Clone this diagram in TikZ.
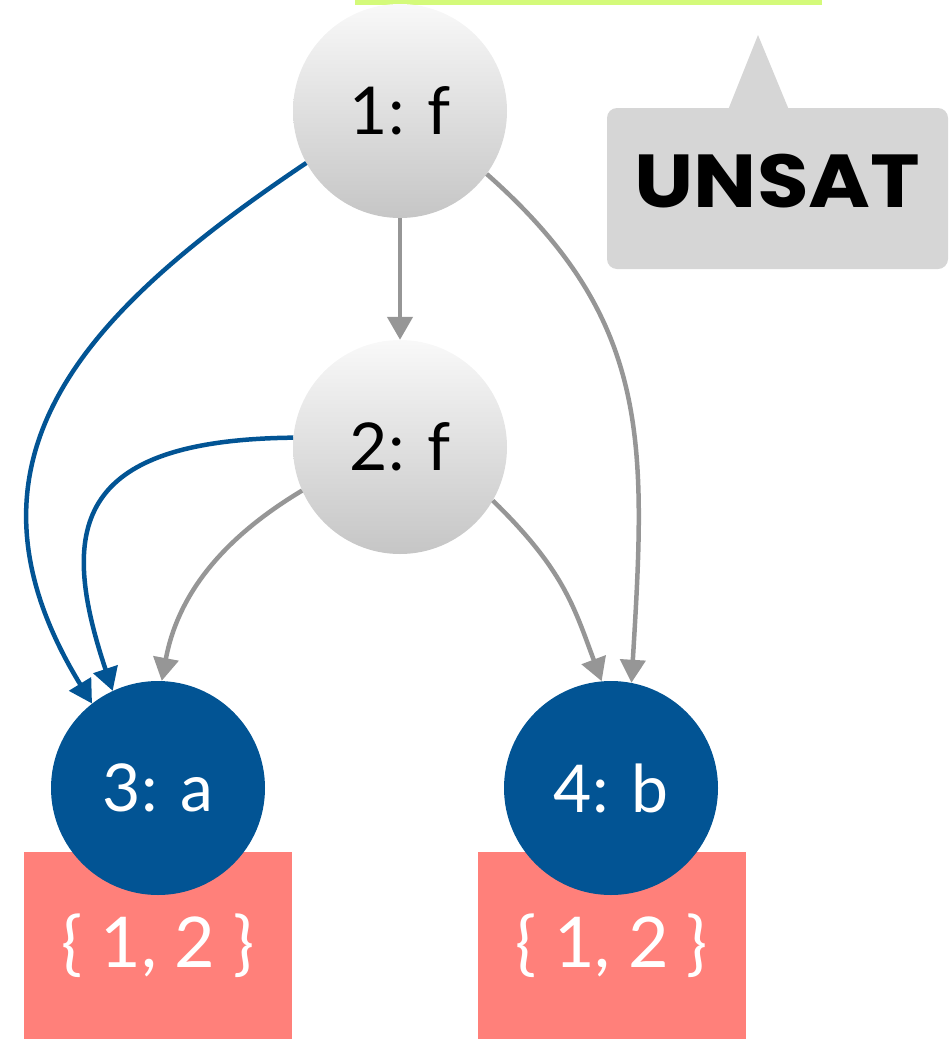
\documentclass[tikz,border=0pt]{standalone}
\usepackage{fontspec}
\setsansfont{Lato}
\newfontfamily\heavyfont{Poppins}
\usetikzlibrary{arrows.meta}

\definecolor{termblue}{RGB}{2,84,148}
\definecolor{depgray}{RGB}{150,150,150}
\definecolor{setred}{RGB}{255,128,122}
\definecolor{notegray}{RGB}{214,214,214}
\definecolor{barlime}{RGB}{212,250,122}

\begin{document}
\begin{tikzpicture}[x=1pt, y=-1pt, >={Triangle[length=23pt, width=25pt]},
  every node/.style={font=\sffamily\fontsize{66}{70}\selectfont},
  fterm/.style={circle, minimum size=214pt, inner sep=0pt, top color=gray!5, bottom color=gray!45},
  cterm/.style={circle, minimum size=214pt, inner sep=0pt, fill=termblue, text=white},
  setbox/.style={rectangle, minimum width=268pt, minimum height=187pt, inner sep=0pt, fill=setred, text=white,
    font=\sffamily\fontsize{70}{74}\selectfont},
  notebox/.style={rectangle, minimum width=341pt, minimum height=161pt, rounded corners=10pt, fill=notegray,
    text depth=16pt, font=\heavyfont\bfseries\fontsize{75}{80}\selectfont},
  dep/.style={draw=depgray, line width=4.5pt, ->},
  bluedep/.style={draw=termblue, line width=4.5pt, ->}]
  \useasboundingbox (0,0) rectangle (949,1039);
  \fill[barlime] (355,0) rectangle (822,5);

  % candidate sets under the constants
  \node[setbox] (s3) at (158,945.5) {\{ 1, 2 \}};
  \node[setbox] (s4) at (611.5,945.5) {\{ 1, 2 \}};

  \node[fterm] (f1) at (400,111) {1: f};
  \node[fterm] (f2) at (400,447) {2: f};
  \node[cterm] (c3) at (158,788) {3: a};
  \node[cterm] (c4) at (611,788) {4: b};

  % the verdict
  \fill[notegray] (728,110) -- (758,35) -- (789,110) -- cycle;
  \node[notebox] (unsat) at (777.5,188.5) {\scalebox{1.12}[1]{UNSAT}};

  \draw[bluedep] (f1.209) .. controls (89,309) and (-59,457) .. (c3.128);
  \draw[bluedep] (f2.175) .. controls (72,440) and (59,530) .. (c3.115);
  \draw[dep] (f1) -- (f2);
  \draw[dep] (f2.204) .. controls (223,538) and (178,594) .. (c3.88);
  \draw[dep] (f2.330) .. controls (564,570) and (574,607) .. (c4.95);
  \draw[dep] (f1.324) .. controls (652,320) and (646,442) .. (c4.79);
\end{tikzpicture}
\end{document}
